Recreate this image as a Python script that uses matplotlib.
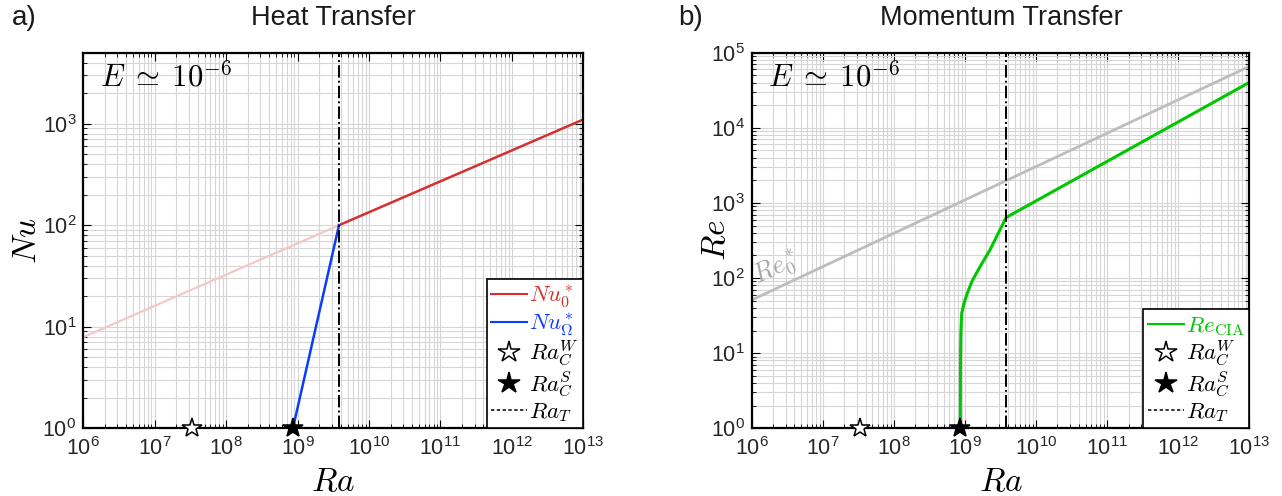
import matplotlib
matplotlib.use("Agg")
import matplotlib.pyplot as plt
from matplotlib.lines import Line2D
from matplotlib.ticker import FixedLocator, NullFormatter

plt.rcParams["font.family"] = ["Liberation Sans", "DejaVu Sans"]
plt.rcParams["mathtext.fontset"] = "cm"

# ---- data -------------------------------------------------------------
ra_transition = 3.8e9      # Ra_T
ra_crit_wall = 3.3e7       # Ra_C^W
ra_crit_bulk = 8.6e8       # Ra_C^S

# Heat transfer
nu0_ra_low = [1e6, ra_transition]
nu0_low = [7.9, 100]
nu0_ra_high = [ra_transition, 1e13]
nu0_high = [100, 1100]
nu_rot_ra = [ra_crit_bulk, ra_transition]
nu_rot = [1, 100]

# Momentum transfer
re0_ra = [1e6, 1e13]
re0 = [51, 65600]
re_cia_ra = [8.6e8, 8.65e8, 8.75e8, 9.0e8, 9.7e8, 1.06e9, 1.25e9,
             1.63e9, 2.25e9, 2.94e9, 3.8e9, 1e13]
re_cia = [1, 8, 18, 34, 46, 60, 90, 142, 237, 395, 640, 40200]

x_exps = list(range(6, 14))
nu_exps = list(range(0, 4))
re_exps = list(range(0, 6))

RED = "#d62f2f"
PINK = "#f2c8c8"
BLUE = "#0a3cff"
GREEN = "#00c800"
GRAY = "#bdbdbd"

W, H = 1282, 496
fig = plt.figure(figsize=(W / 100, H / 100), dpi=100)

ax_l, ax_b, ax_h = 83.3 / W, (H - 428.3) / H, 375.6 / H
ax1 = fig.add_axes([ax_l, ax_b, 500 / W, ax_h])
ax2 = fig.add_axes([751.7 / W, ax_b, 497.6 / W, ax_h])


def minor_positions(lo, hi):
    return [m * 10.0 ** e for e in range(lo, hi) for m in range(2, 10)]


def style(ax, ylim, yexps):
    ax.set_xscale("log")
    ax.set_yscale("log")
    ax.set_xlim(1e6, 1e13)
    ax.set_ylim(*ylim)
    ax.xaxis.set_major_locator(FixedLocator([10.0 ** e for e in x_exps]))
    ax.xaxis.set_minor_locator(FixedLocator(minor_positions(6, 13)))
    ax.set_xticklabels([r"$\mathregular{10^{%d}}$" % e for e in x_exps])
    ax.yaxis.set_major_locator(FixedLocator([10.0 ** e for e in yexps]))
    ax.yaxis.set_minor_locator(FixedLocator(minor_positions(0, 5)))
    ax.set_yticklabels([r"$\mathregular{10^{%d}}$" % e for e in yexps])
    ax.xaxis.set_minor_formatter(NullFormatter())
    ax.yaxis.set_minor_formatter(NullFormatter())
    ax.grid(True, which="both", color="#d6d6d6", lw=0.8)
    ax.set_axisbelow(True)
    ax.tick_params(which="both", direction="in", top=True, right=True,
                   labelsize=15.5, labelcolor="#262626")
    ax.tick_params(axis="x", which="major", pad=6)
    ax.tick_params(axis="y", which="major", pad=5)
    ax.tick_params(which="major", length=6, width=0.8)
    ax.tick_params(which="minor", length=3, width=0.6)
    for s in ax.spines.values():
        s.set_linewidth(1.6)


style(ax1, (1, 5000), nu_exps)
style(ax2, (1, 1e5), re_exps)

# ---- a) heat transfer -------------------------------------------------
ax1.plot(nu0_ra_low, nu0_low, color=PINK, lw=1.6)
ax1.plot(nu0_ra_high, nu0_high, color=RED, lw=1.8)
ax1.plot(nu_rot_ra, nu_rot, color=BLUE, lw=1.8)
ax1.axvline(ra_transition, color="black", ls="-.", lw=1.4)

# ---- b) momentum transfer ---------------------------------------------
ax2.plot(re0_ra, re0, color=GRAY, lw=2.0)
ax2.plot(re_cia_ra, re_cia, color=GREEN, lw=2.2)
ax2.axvline(ra_transition, color="black", ls="-.", lw=1.4)
ax2.text(1.2e6, 84, r"$Re_0^*$", color="#a8a8a8", fontsize=19,
         rotation=25, rotation_mode="anchor", ha="left", va="baseline")

star_kw = dict(ls="none", marker="*", markersize=15, clip_on=False, zorder=10,
               markeredgecolor="black", markeredgewidth=1.1)
leg_star_kw = dict(ls="none", marker="*", markersize=16,
                   markeredgecolor="black", markeredgewidth=1.1)
for ax in (ax1, ax2):
    ax.plot([ra_crit_wall], [1], markerfacecolor="white", **star_kw)
    ax.plot([ra_crit_bulk], [1], markerfacecolor="black", **star_kw)
    ax.text(0.033, 0.912, r"$E \;\simeq\; 10^{-6}$", transform=ax.transAxes,
            fontsize=22, ha="left", va="baseline")

dash_handle = Line2D([], [], color="black", ls=(0, (2.2, 1.6)), lw=1.1)
wall_handle = Line2D([], [], markerfacecolor="white", **leg_star_kw)
bulk_handle = Line2D([], [], markerfacecolor="black", **leg_star_kw)

leg_kw = dict(loc="lower right", bbox_to_anchor=(1, 0), borderaxespad=0,
              fontsize=16.5, handlelength=1.55, handletextpad=0.1,
              labelspacing=0.05, borderpad=0.2, fancybox=False,
              framealpha=1, edgecolor="black")

leg1 = ax1.legend([Line2D([], [], color=RED, lw=1.5),
                   Line2D([], [], color=BLUE, lw=1.5),
                   wall_handle, bulk_handle, dash_handle],
                  [r"$Nu_0^*$", r"$Nu_\Omega^*$", r"$Ra_C^W$", r"$Ra_C^S$",
                   r"$Ra_T$"], **leg_kw)
for t, c in zip(leg1.get_texts(), [RED, BLUE, "black", "black", "black"]):
    t.set_color(c)
leg1.get_frame().set_linewidth(1.2)

leg2 = ax2.legend([Line2D([], [], color=GREEN, lw=1.5),
                   wall_handle, bulk_handle, dash_handle],
                  [r"$Re_{\rm CIA}$", r"$Ra_C^W$", r"$Ra_C^S$", r"$Ra_T$"],
                  **leg_kw)
for t, c in zip(leg2.get_texts(), [GREEN, "black", "black", "black"]):
    t.set_color(c)
leg2.get_frame().set_linewidth(1.2)

# ---- titles and axis labels ------------------------------------------
fig.text(333 / W, 1 - 18 / H, "Heat Transfer", ha="center", va="center",
         fontsize=19.5, color="#1a1a1a")
fig.text(1001 / W, 1 - 18 / H, "Momentum Transfer", ha="center",
         va="center", fontsize=19.5, color="#1a1a1a")
fig.text(12 / W, 1 - 18 / H, "a)", ha="left", va="center", fontsize=20,
         color="#1a1a1a")
fig.text(678 / W, 1 - 18 / H, "b)", ha="left", va="center", fontsize=20,
         color="#1a1a1a")

fig.text(333 / W, 5 / H, r"$Ra$", ha="center", va="baseline", fontsize=24)
fig.text(1001 / W, 5 / H, r"$Ra$", ha="center", va="baseline", fontsize=24)
fig.text(28 / W, ax_b + ax_h / 2, r"$Nu$", ha="center", va="center",
         rotation=90, fontsize=24)
fig.text(716 / W, ax_b + ax_h / 2, r"$Re$", ha="center", va="center",
         rotation=90, fontsize=24)

fig.savefig("out.png", dpi=100)
